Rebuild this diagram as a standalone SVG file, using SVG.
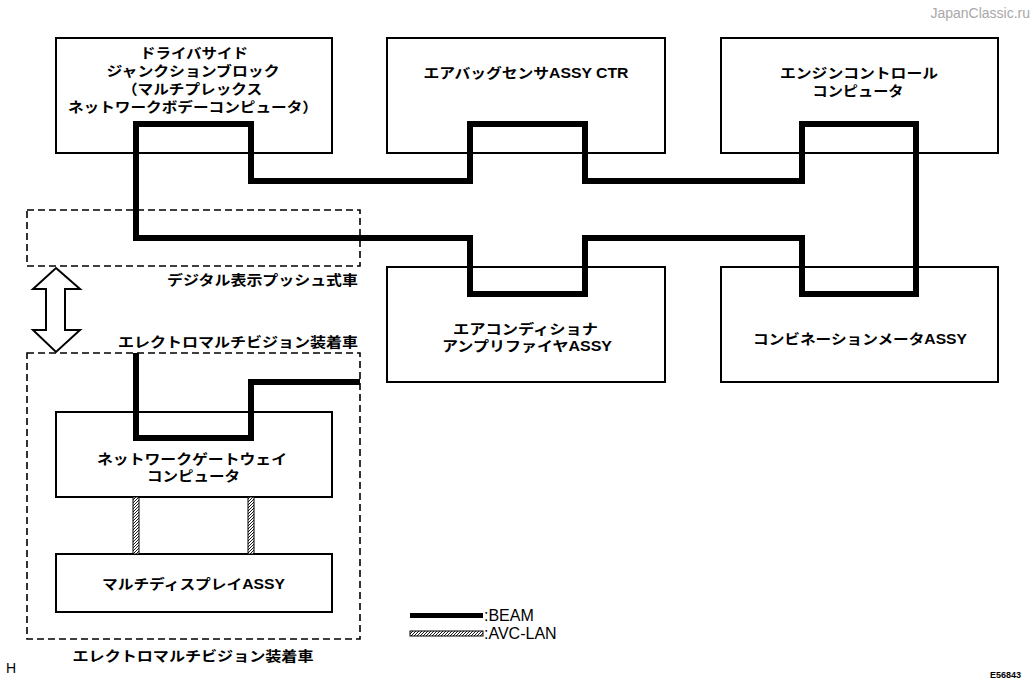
<svg xmlns="http://www.w3.org/2000/svg" width="1033" height="685" viewBox="0 0 1033 685">
<style>
.box{fill:#fff;stroke:#000;stroke-width:2}
.dash{fill:none;stroke:#000;stroke-width:1.6;stroke-dasharray:7 4}
.beam{fill:none;stroke:#000;stroke-width:6;stroke-linejoin:miter;stroke-linecap:butt}
.avc{fill:url(#hatch);stroke:#000;stroke-width:1}
text{font-family:"Liberation Sans","Noto Sans CJK JP",sans-serif;font-size:14px;fill:#000;font-weight:bold}
.c{text-anchor:middle}
</style>
<defs>
<pattern id="hatch" patternUnits="userSpaceOnUse" width="3" height="3">
<rect width="3" height="3" fill="#fff"/>
<path d="M-1,1 L1,-1 M0,3 L3,0 M2,4 L4,2" stroke="#000" stroke-width="0.9"/>
</pattern>
</defs>

<g id="zone-digital">
<rect class="dash" x="27" y="210" width="333" height="56"/>
<text x="358" y="285" text-anchor="end" textLength="191" lengthAdjust="spacingAndGlyphs">デジタル表示プッシュ式車</text>
</g>
<g id="zone-emv">
<rect class="dash" x="27" y="353" width="333" height="286"/>
<text x="358" y="347" text-anchor="end" textLength="240" lengthAdjust="spacingAndGlyphs">エレクトロマルチビジョン装着車</text>
<text class="c" x="193" y="661" textLength="241" lengthAdjust="spacingAndGlyphs">エレクトロマルチビジョン装着車</text>
</g>
<g id="switch-arrow">
<polygon points="56,268 80,289 65,289 65,330 80,330 56,352 33,330 46,330 46,289 33,289" fill="#fff" stroke="#000" stroke-width="2"/>
</g>

<g id="node-driver-jb">
<rect class="box" x="56" y="38" width="276" height="115"/>
<text class="c" x="194" y="58" textLength="108" lengthAdjust="spacingAndGlyphs">ドライバサイド</text>
<text class="c" x="193" y="76" textLength="173" lengthAdjust="spacingAndGlyphs">ジャンクションブロック</text>
<text class="c" x="192" y="94" textLength="140" lengthAdjust="spacingAndGlyphs">（マルチプレックス</text>
<text class="c" x="193" y="112" textLength="250" lengthAdjust="spacingAndGlyphs">ネットワークボデーコンピュータ）</text>
</g>
<g id="node-airbag">
<rect class="box" x="387" y="38" width="278" height="115"/>
<text class="c" x="526" y="78" textLength="205" lengthAdjust="spacingAndGlyphs">エアバッグセンサASSY CTR</text>
</g>
<g id="node-engine">
<rect class="box" x="721" y="38" width="277" height="115"/>
<text class="c" x="859" y="78" textLength="158" lengthAdjust="spacingAndGlyphs">エンジンコントロール</text>
<text class="c" x="858" y="96" textLength="91" lengthAdjust="spacingAndGlyphs">コンピュータ</text>
</g>
<g id="node-aircon">
<rect class="box" x="387" y="267" width="278" height="115"/>
<text class="c" x="525.5" y="334" textLength="145" lengthAdjust="spacingAndGlyphs">エアコンディショナ</text>
<text class="c" x="527" y="351" textLength="170" lengthAdjust="spacingAndGlyphs">アンプリファイヤASSY</text>
</g>
<g id="node-combination">
<rect class="box" x="721" y="267" width="277" height="115"/>
<text class="c" x="860" y="344" textLength="214" lengthAdjust="spacingAndGlyphs">コンビネーションメータASSY</text>
</g>
<g id="node-gateway">
<rect class="box" x="56" y="412" width="276" height="85"/>
<text class="c" x="192" y="464" textLength="190" lengthAdjust="spacingAndGlyphs">ネットワークゲートウェイ</text>
<text class="c" x="193.5" y="481" textLength="93" lengthAdjust="spacingAndGlyphs">コンピュータ</text>
</g>
<g id="node-multidisplay">
<rect class="box" x="56" y="554" width="276" height="58"/>
<text class="c" x="193.5" y="589" textLength="183" lengthAdjust="spacingAndGlyphs">マルチディスプレイASSY</text>
</g>

<g id="connectors">
<path class="beam" d="M136,124 H251 V181 H470 V124 H585 V181 H802 V124 H916 V294 H802 V238 H585 V294 H470 V238 H136 Z"/>
<path class="beam" d="M136,353 V438 H251 V382 H360"/>
<rect class="avc" x="133" y="497" width="6" height="57"/>
<rect class="avc" x="248" y="497" width="6" height="57"/>
</g>

<g id="legend">
<rect x="410" y="613" width="73" height="5" fill="#000"/>
<text x="484" y="621" style="font-size:16px;font-weight:normal">:BEAM</text>
<rect class="avc" x="410" y="631" width="73" height="5"/>
<text x="484" y="639" style="font-size:16px;font-weight:normal">:AVC-LAN</text>
</g>

<text x="1030" y="18" text-anchor="end" style="font-size:14px;fill:#a8a8a8;font-weight:normal">JapanClassic.ru</text>
<text x="6" y="673" style="font-size:14px;font-weight:normal">H</text>
<text x="990" y="678" style="font-size:9px">E56843</text>
</svg>
